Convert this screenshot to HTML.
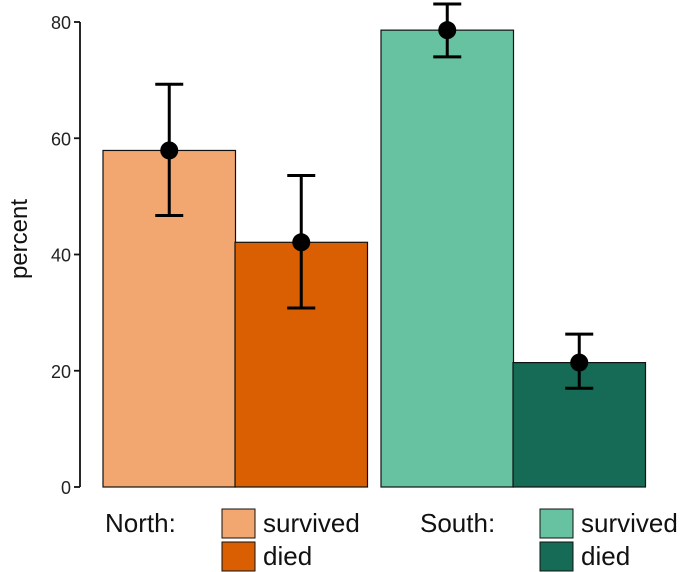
<!DOCTYPE html>
<html><head><meta charset="utf-8"><style>
body{margin:0;background:#fff;}
svg{display:block;font-family:"Liberation Sans",sans-serif;}
</style></head><body>
<svg id="chart" width="685" height="572">
<g id="plot"></g>
<g id="yaxis"></g>
<text x="27" y="239" font-size="24" fill="#111" text-anchor="middle" transform="rotate(-90 27 239)">percent</text>
<g font-size="26" fill="#111">
<text x="105" y="532">North:</text>
<rect x="222" y="509" width="33" height="29" fill="#f2a771" stroke="#111"/>
<text x="263" y="532">survived</text>
<rect x="222" y="542" width="33" height="29" fill="#d95f02" stroke="#111"/>
<text x="263" y="565">died</text>
<text x="420" y="532">South:</text>
<rect x="540" y="509" width="33" height="29" fill="#66c2a0" stroke="#111"/>
<text x="581" y="532">survived</text>
<rect x="540" y="542" width="33" height="29" fill="#156b55" stroke="#111"/>
<text x="581" y="565">died</text>
</g>
</svg>
<script>
const categories = ["North survived","North died","South survived","South died"];
const values = [57.9, 42.1, 78.6, 21.4];
const lower = [46.7, 30.8, 74.0, 17.0];
const upper = [69.3, 53.6, 83.1, 26.3];
const colors = ["#f2a771","#d95f02","#66c2a0","#156b55"];
const yTicks = [0,20,40,60,80];
const NS="http://www.w3.org/2000/svg";
const y = v => 487 - v*5.8125;
const barX = [103,235,381,513];
const barW = 132.5;
const plot=document.getElementById('plot');
function mk(t,a,p){const e=document.createElementNS(NS,t);for(const k in a)e.setAttribute(k,a[k]);p.appendChild(e);return e;}
values.forEach((v,i)=>{
  const r=mk('rect',{x:barX[i],y:y(v),width:barW,height:y(0)-y(v),fill:colors[i],stroke:'#111','stroke-width':1.2},plot);
  
  
  const cx=barX[i]+barW/2;
  const g=mk('g',{stroke:'#000','stroke-width':3},plot);
  
  
  mk('line',{x1:cx,x2:cx,y1:y(lower[i]),y2:y(upper[i])},g);
  mk('line',{x1:cx-14,x2:cx+14,y1:y(lower[i]),y2:y(lower[i])},g);
  mk('line',{x1:cx-14,x2:cx+14,y1:y(upper[i]),y2:y(upper[i])},g);
  const c=mk('circle',{cx:cx,cy:y(v),r:9,fill:'#000'},plot);
  
  
});
const ya=document.getElementById('yaxis');
mk('line',{x1:80,x2:80,y1:y(80),y2:y(0),stroke:'#111','stroke-width':1.8},ya);
yTicks.forEach(t=>{
  mk('line',{x1:74,x2:80,y1:y(t),y2:y(t),stroke:'#111','stroke-width':1.8},ya);
  const tx=mk('text',{x:71,y:y(t)+7,'text-anchor':'end','font-size':18,fill:'#222'},ya);
  tx.textContent=t;
  
  
});
</script>
</body></html>
